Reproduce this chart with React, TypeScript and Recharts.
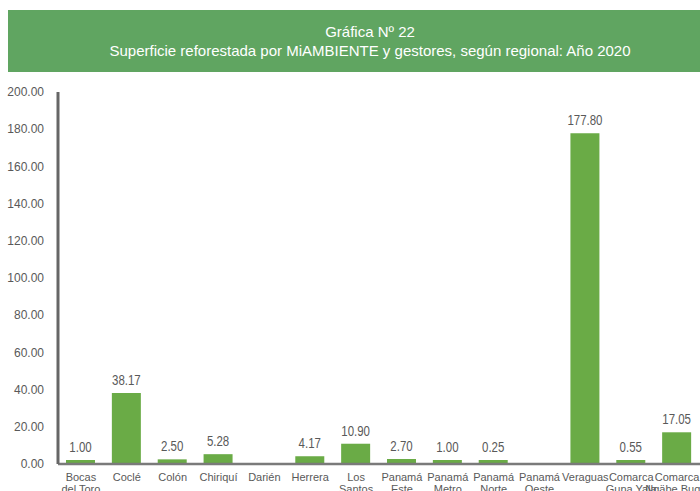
import { Bar, BarChart, LabelList, XAxis, YAxis } from "recharts";

const regions = [
  "Bocas del Toro",
  "Coclé",
  "Colón",
  "Chiriquí",
  "Darién",
  "Herrera",
  "Los Santos",
  "Panamá Este",
  "Panamá Metro",
  "Panamá Norte",
  "Panamá Oeste",
  "Veraguas",
  "Comarca Guna Yala",
  "Comarca Ngäbe Buglé",
];

const hectares: (number | null)[] = [
  1.0, 38.17, 2.5, 5.28, null, 4.17, 10.9, 2.7, 1.0, 0.25, null, 177.8, 0.55, 17.05,
];

const yTicks = [0, 20, 40, 60, 80, 100, 120, 140, 160, 180, 200];

const data = regions.map((region, i) => ({ region, value: hectares[i] }));

const GREY = "#595959";
const FONT = "'Liberation Sans', Arial, sans-serif";

// nombre en dos líneas: primera palabra / resto
function RegionTick(props: any) {
  const { x, y, payload } = props;
  const name: string = payload.value;
  const cut = name.indexOf(" ");
  const lines = cut < 0 ? [name] : [name.slice(0, cut), name.slice(cut + 1)];
  return (
    <text x={x} y={y} textAnchor="middle" fill={GREY} fontSize={11} fontFamily={FONT}>
      {lines.map((l, i) => (
        <tspan key={i} x={x} dy={i === 0 ? 9 : 12}>
          {l}
        </tspan>
      ))}
    </text>
  );
}

// etiqueta de valor, letra estrecha (Arial Narrow no está disponible)
function ValueLabel(props: any) {
  const { x, y, width, value } = props;
  if (value == null) return null;
  const cx = Number(x) + Number(width) / 2;
  const by = Number(y) - 8;
  return (
    <text
      transform={`translate(${cx},${by}) scale(0.82,1)`}
      textAnchor="middle"
      fill={GREY}
      fontSize={14}
      fontFamily={FONT}
    >
      {Number(value).toFixed(2)}
    </text>
  );
}

export default function App() {
  return (
    <div style={{ position: "absolute", left: 0, top: 0, width: 700, height: 491, overflow: "hidden", background: "#fff" }}>
      <div
        style={{
          position: "absolute",
          left: 8,
          top: 10,
          width: 724,
          height: 62,
          background: "#60a561",
          color: "#fff",
          fontFamily: FONT,
          fontSize: 15,
          lineHeight: "19px",
          textAlign: "center",
          paddingTop: 12,
          boxSizing: "border-box",
        }}
      >
        <div>Gráfica Nº 22</div>
        <div>Superficie reforestada por MiAMBIENTE y gestores, según regional: Año 2020</div>
      </div>
      <div style={{ position: "absolute", left: 0, top: 0 }}>
        <BarChart
          width={700}
          height={491}
          data={data}
          margin={{ top: 92, right: 0, bottom: 0, left: 0 }}
          barSize={29}
        >
          <XAxis
            dataKey="region"
            interval={0}
            height={27}
            tickLine={false}
            axisLine={{ stroke: "#7a7a7a", strokeWidth: 2.5 }}
            tick={<RegionTick />}
          />
          <YAxis
            type="number"
            domain={[0, 200]}
            ticks={yTicks}
            interval={0}
            width={58}
            tickLine={false}
            tickMargin={8}
            axisLine={{ stroke: "#666666", strokeWidth: 3 }}
            tickFormatter={(v: number) => v.toFixed(2)}
            tick={{ fill: GREY, fontSize: 12, fontFamily: FONT }}
          />
          <Bar dataKey="value" fill="#6aab46" minPointSize={4} isAnimationActive={false}>
            <LabelList dataKey="value" content={<ValueLabel />} />
          </Bar>
        </BarChart>
      </div>
    </div>
  );
}
